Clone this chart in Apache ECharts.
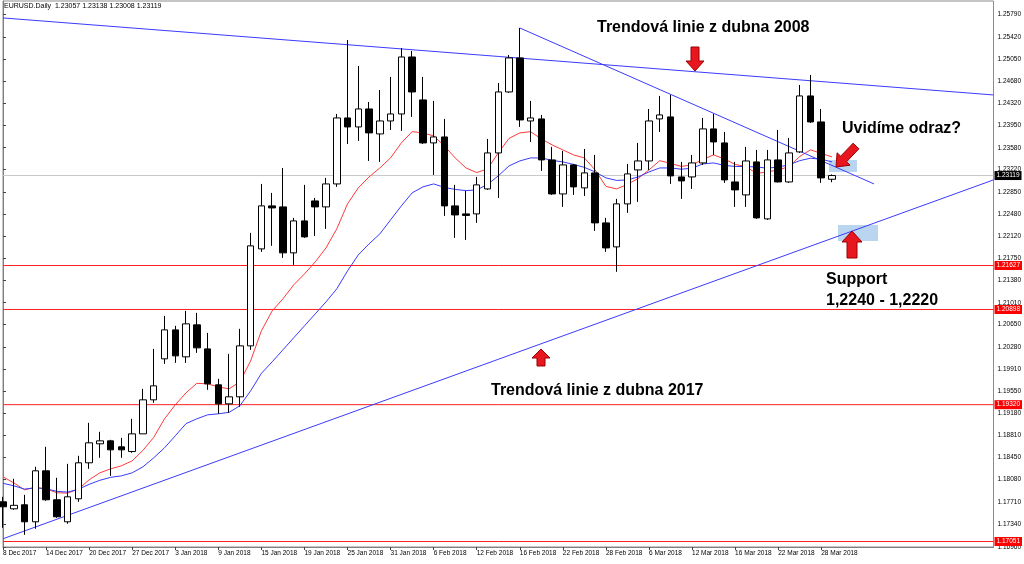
<!DOCTYPE html>
<html><head><meta charset="utf-8">
<script src="https://cdn.jsdelivr.net/npm/echarts@6/dist/echarts.min.js"></script>
<style>html,body{margin:0;padding:0;background:#fff}#c{width:1024px;height:564px}</style>
</head><body><div id="c"></div>
<script>
const dates = ['8 Dec 2017','11 Dec 2017','12 Dec 2017','13 Dec 2017','14 Dec 2017','15 Dec 2017','18 Dec 2017','19 Dec 2017','20 Dec 2017','21 Dec 2017','22 Dec 2017','26 Dec 2017','27 Dec 2017','28 Dec 2017','29 Dec 2017','2 Jan 2018','3 Jan 2018','4 Jan 2018','5 Jan 2018','8 Jan 2018','9 Jan 2018','10 Jan 2018','11 Jan 2018','12 Jan 2018','15 Jan 2018','16 Jan 2018','17 Jan 2018','18 Jan 2018','19 Jan 2018','22 Jan 2018','23 Jan 2018','24 Jan 2018','25 Jan 2018','26 Jan 2018','29 Jan 2018','30 Jan 2018','31 Jan 2018','1 Feb 2018','2 Feb 2018','5 Feb 2018','6 Feb 2018','7 Feb 2018','8 Feb 2018','9 Feb 2018','12 Feb 2018','13 Feb 2018','14 Feb 2018','15 Feb 2018','16 Feb 2018','19 Feb 2018','20 Feb 2018','21 Feb 2018','22 Feb 2018','23 Feb 2018','26 Feb 2018','27 Feb 2018','28 Feb 2018','1 Mar 2018','2 Mar 2018','5 Mar 2018','6 Mar 2018','7 Mar 2018','8 Mar 2018','9 Mar 2018','12 Mar 2018','13 Mar 2018','14 Mar 2018','15 Mar 2018','16 Mar 2018','19 Mar 2018','20 Mar 2018','21 Mar 2018','22 Mar 2018','23 Mar 2018','26 Mar 2018','27 Mar 2018','28 Mar 2018','29 Mar 2018'];
const emptySlots = 15;

const open = [
1.17709,1.17593,1.17660,1.17378,1.18223,1.17743,1.17378,1.17759,1.18356,1.18671,
1.18720,1.18621,1.18543,1.18836,1.19400,1.20080,1.20560,1.20113,1.20643,1.20245,
1.19649,1.19334,1.19450,1.20295,1.21903,1.22616,1.22599,1.21837,1.22367,1.22698,
1.22599,1.22980,1.24074,1.23925,1.24223,1.23809,1.24024,1.24140,1.25085,1.24373,
1.23660,1.23759,1.22616,1.22483,1.22483,1.22897,1.23494,1.24505,1.25069,1.24024,
1.24058,1.23378,1.22814,1.23295,1.22914,1.23162,1.22334,1.21936,1.22649,1.23212,
1.23361,1.24058,1.24091,1.23096,1.23096,1.23328,1.23892,1.23660,1.23013,1.22798,
1.23345,1.22400,1.23378,1.23013,1.23511,1.24439,1.24008,1.23057];
const close = [
1.17627,1.17651,1.17378,1.18223,1.17743,1.17461,1.17792,1.18356,1.18687,1.18720,
1.18571,1.18571,1.18836,1.19400,1.19632,1.20560,1.20129,1.20660,1.20262,1.19665,
1.19334,1.19450,1.20295,1.21953,1.22616,1.22582,1.21837,1.22367,1.22102,1.22599,
1.22980,1.24074,1.23925,1.24223,1.23826,1.24024,1.24140,1.25085,1.24505,1.23660,
1.23759,1.22616,1.22466,1.22458,1.22964,1.23494,1.24505,1.25069,1.24041,1.24074,
1.23378,1.22814,1.23295,1.22931,1.23163,1.22334,1.21919,1.22649,1.23146,1.23361,
1.24024,1.24124,1.23113,1.23030,1.23328,1.23892,1.23676,1.23047,1.22881,1.23361,
1.22417,1.23378,1.23013,1.23494,1.24439,1.24008,1.23080,1.23119];
const low = [
1.17278,1.17577,1.17162,1.17262,1.17726,1.17444,1.17345,1.17709,1.18256,1.18439,
1.18140,1.18439,1.18522,1.18836,1.19350,1.19997,1.20013,1.20013,1.20179,1.19566,
1.19168,1.19185,1.19284,1.20229,1.21853,1.21953,1.21754,1.21638,1.22085,1.22118,
1.22234,1.22931,1.23643,1.23693,1.23361,1.23345,1.23875,1.23859,1.24091,1.23643,
1.23129,1.22450,1.22085,1.22052,1.22334,1.22881,1.22748,1.24489,1.23925,1.23676,
1.23196,1.22798,1.22599,1.22798,1.22781,1.22201,1.21853,1.21522,1.22500,1.22682,
1.23212,1.23842,1.22980,1.22732,1.22897,1.23295,1.23461,1.22997,1.22599,1.22599,
1.22400,1.22384,1.23005,1.22997,1.23494,1.23991,1.22997,1.23008];
const high = [
1.17792,1.18091,1.17825,1.18290,1.18621,1.18107,1.18339,1.18472,1.19019,1.18870,
1.18737,1.18770,1.19085,1.19582,1.20245,1.20792,1.20627,1.20875,1.20842,1.20510,
1.19748,1.20162,1.20577,1.22168,1.22980,1.22831,1.23245,1.22417,1.22964,1.22748,
1.23080,1.24140,1.25367,1.24936,1.24339,1.24538,1.24754,1.25234,1.25185,1.24754,
1.24356,1.24058,1.22964,1.22864,1.23096,1.23726,1.24654,1.25118,1.25566,1.24356,
1.24124,1.23594,1.23527,1.23312,1.23560,1.23461,1.22417,1.22732,1.23312,1.23660,
1.24223,1.24439,1.24455,1.23345,1.23461,1.24074,1.24140,1.23842,1.23345,1.23594,
1.23544,1.23544,1.23875,1.23743,1.24621,1.24787,1.24223,1.23138];
const maFast = [
1.18124,1.18024,1.17908,1.17950,1.17925,1.17859,1.17854,1.17920,1.18074,1.18190,
1.18256,1.18306,1.18389,1.18563,1.18778,1.19085,1.19317,1.19516,1.19674,1.19665,
1.19615,1.19582,1.19698,1.20046,1.20544,1.20875,1.21074,1.21306,1.21488,1.21687,
1.21919,1.22234,1.22649,1.22914,1.23096,1.23245,1.23411,1.23660,1.23847,1.23826,
1.23776,1.23610,1.23411,1.23245,1.23168,1.23229,1.23494,1.23734,1.23826,1.23847,
1.23726,1.23627,1.23544,1.23461,1.23411,1.23212,1.22939,1.22897,1.22972,1.23071,
1.23212,1.23366,1.23320,1.23270,1.23295,1.23386,1.23461,1.23395,1.23303,1.23267,
1.23154,1.23179,1.23212,1.23267,1.23436,1.23544,1.23487,1.23428];
const maSlow = [
1.18016,1.17975,1.17920,1.17941,1.17925,1.17883,1.17870,1.17917,1.17999,1.18066,
1.18115,1.18140,1.18190,1.18290,1.18439,1.18604,1.18803,1.19006,1.19085,1.19151,
1.19168,1.19193,1.19301,1.19549,1.19839,1.20030,1.20229,1.20428,1.20627,1.20825,
1.21024,1.21240,1.21538,1.21803,1.21986,1.22151,1.22384,1.22616,1.22831,1.22931,
1.22980,1.22922,1.22889,1.22869,1.22881,1.22972,1.23113,1.23279,1.23361,1.23411,
1.23411,1.23370,1.23345,1.23303,1.23254,1.23179,1.23080,1.23038,1.23047,1.23096,
1.23179,1.23245,1.23245,1.23224,1.23240,1.23312,1.23328,1.23287,1.23270,1.23267,
1.23262,1.23240,1.23262,1.23295,1.23366,1.23406,1.23390,1.23345];
const priceTicks = [1.25790,1.25420,1.25050,1.24680,1.24320,1.23950,1.23580,1.23220,1.22850,1.22480,1.22120,1.21750,1.21380,1.21010,1.20650,1.20280,1.19910,1.19550,1.19180,1.18810,1.18450,1.18080,1.17710,1.17340,1.16960];
const levels = [1.21627,1.20898,1.19320,1.17051];
const lastPrice = 1.23119;
const trend2008 = [[0,1.25732],[92,1.24455]];
const trendFeb = [[48,1.25566],[80.9,1.22980]];
const trend2017 = [[0,1.17097],[92,1.23047]];
const header = 'EURUSD.Daily  1.23057 1.23138 1.23008 1.23119';
const notes = {top:'Trendová linie z dubna 2008', bounce:'Uvidíme odraz?', support1:'Support', support2:'1,2240 - 1,2220', bottom:'Trendová linie z dubna 2017'};

const cats = dates.concat(Array.from({length: emptySlots}, (_, k) => 'f' + k));
const nReal = dates.length;
const lastIdx = cats.length - 1;
const showIdx = (i) => i % 4 === 0 && i < nReal;
const candles = open.map((o, i) => [o, close[i], low[i], high[i]]);
const SMALL = 6.5, FONT = 'Liberation Sans';

function levelSeries(v, lineColor, tagColor, z) {
  return {
    type: 'line', xAxisIndex: 1, data: [[0, v], [lastIdx, v]], showSymbol: false, symbol: 'none', z: z, silent: true,
    lineStyle: {color: lineColor, width: 1},
    endLabel: {show: true, distance: 1, color: '#fff', fontSize: SMALL, fontFamily: FONT, backgroundColor: tagColor, padding: [1, 2, 1, 2], formatter: () => v.toFixed(5)}
  };
}

const chart = echarts.init(document.getElementById('c'), null, {renderer: 'canvas'});
const bold = 'bold 16px "Liberation Sans", Arial, sans-serif';
const arrowStyle = {fill: '#e8161e', stroke: '#9a0000', lineWidth: 1};
chart.setOption({
  animation: false,
  backgroundColor: '#ffffff',
  grid: {left: 2, right: 28, top: 1, bottom: 17, show: true, borderColor: '#8c8c8c', borderWidth: 1, backgroundColor: '#fff'},
  xAxis: [{
    type: 'category', data: cats, boundaryGap: false,
    axisLine: {show: true, lineStyle: {color: '#808080'}},
    axisTick: {show: true, interval: (i) => showIdx(i), length: 3, lineStyle: {color: '#444'}},
    axisLabel: {interval: (i) => showIdx(i), align: 'left', fontSize: SMALL, fontFamily: FONT, color: '#000', margin: 3},
    splitLine: {show: false}
  }, {
    type: 'value', min: 0, max: lastIdx, show: false
  }],
  yAxis: {
    type: 'value', position: 'right', min: 1.1696, max: 1.26013, scale: true,
    splitLine: {show: false},
    axisLine: {show: true, lineStyle: {color: '#808080'}},
    axisTick: {show: true, length: 3, customValues: priceTicks, lineStyle: {color: '#444'}},
    axisLabel: {customValues: priceTicks, formatter: (v) => v.toFixed(5), fontSize: SMALL, fontFamily: FONT, color: '#000', margin: 4}
  },
  series: levels.map((v) => levelSeries(v, '#ff2020', '#ff0000', 3))
    .concat([levelSeries(lastPrice, '#c8c8c8', '#000000', 3)])
    .concat([
    {
      type: 'candlestick', data: candles, barWidth: 7, z: 5,
      itemStyle: {color: '#ffffff', color0: '#000000', borderColor: '#000000', borderColor0: '#000000', borderWidth: 1}
    },
    {type: 'line', data: maFast, showSymbol: false, symbol: 'none', z: 4, lineStyle: {color: '#ff3b3b', width: 1}},
    {type: 'line', data: maSlow, showSymbol: false, symbol: 'none', z: 4, lineStyle: {color: '#3b3bff', width: 1}},
    {type: 'line', xAxisIndex: 1, data: trend2008, showSymbol: false, symbol: 'none', z: 4, lineStyle: {color: '#3b3bff', width: 1}},
    {type: 'line', xAxisIndex: 1, data: trendFeb, showSymbol: false, symbol: 'none', z: 4, lineStyle: {color: '#3b3bff', width: 1}},
    {type: 'line', xAxisIndex: 1, data: trend2017, showSymbol: false, symbol: 'none', z: 4, lineStyle: {color: '#3b3bff', width: 1}}
  ]),
  graphic: [
    {type: 'rect', z: 3, shape: {x: 829, y: 160, width: 28, height: 12}, style: {fill: 'rgba(140,185,230,0.6)'}},
    {type: 'rect', z: 3, shape: {x: 838, y: 225, width: 40, height: 16}, style: {fill: 'rgba(140,185,230,0.6)'}},
    {type: 'text', z: 10, left: 4, top: 3, style: {text: header, font: '7px "Liberation Sans"', fill: '#000'}},
    {type: 'text', z: 10, style: {x: 597, y: 28, text: notes.top, font: bold, fill: '#000', textVerticalAlign: 'middle'}},
    {type: 'text', z: 10, style: {x: 842, y: 129, text: notes.bounce, font: bold, fill: '#000', textVerticalAlign: 'middle'}},
    {type: 'text', z: 10, style: {x: 826, y: 280, text: notes.support1, font: bold, fill: '#000', textVerticalAlign: 'middle'}},
    {type: 'text', z: 10, style: {x: 826, y: 301, text: notes.support2, font: bold, fill: '#000', textVerticalAlign: 'middle'}},
    {type: 'text', z: 10, style: {x: 491, y: 391, text: notes.bottom, font: bold, fill: '#000', textVerticalAlign: 'middle'}},
    {type: 'polygon', z: 10, shape: {points: [[691,47],[699,47],[699,61],[704,61],[695,71],[686,61],[691,61]]}, style: arrowStyle},
    {type: 'polygon', z: 10, shape: {points: [[541,349],[550,358],[545,358],[545,366],[537,366],[537,358],[532,358]]}, style: arrowStyle},
    {type: 'polygon', z: 10, shape: {points: [[852,231],[862,242],[857,242],[857,258],[847,258],[847,242],[842,242]]}, style: arrowStyle},
    {type: 'polygon', z: 10, shape: {points: [[858.9,148.8],[846.5,161.8],[850.1,165.2],[836,167],[837.1,152.8],[840.7,156.2],[853.1,143.2]]}, style: arrowStyle}
  ]
});
</script></body></html>
